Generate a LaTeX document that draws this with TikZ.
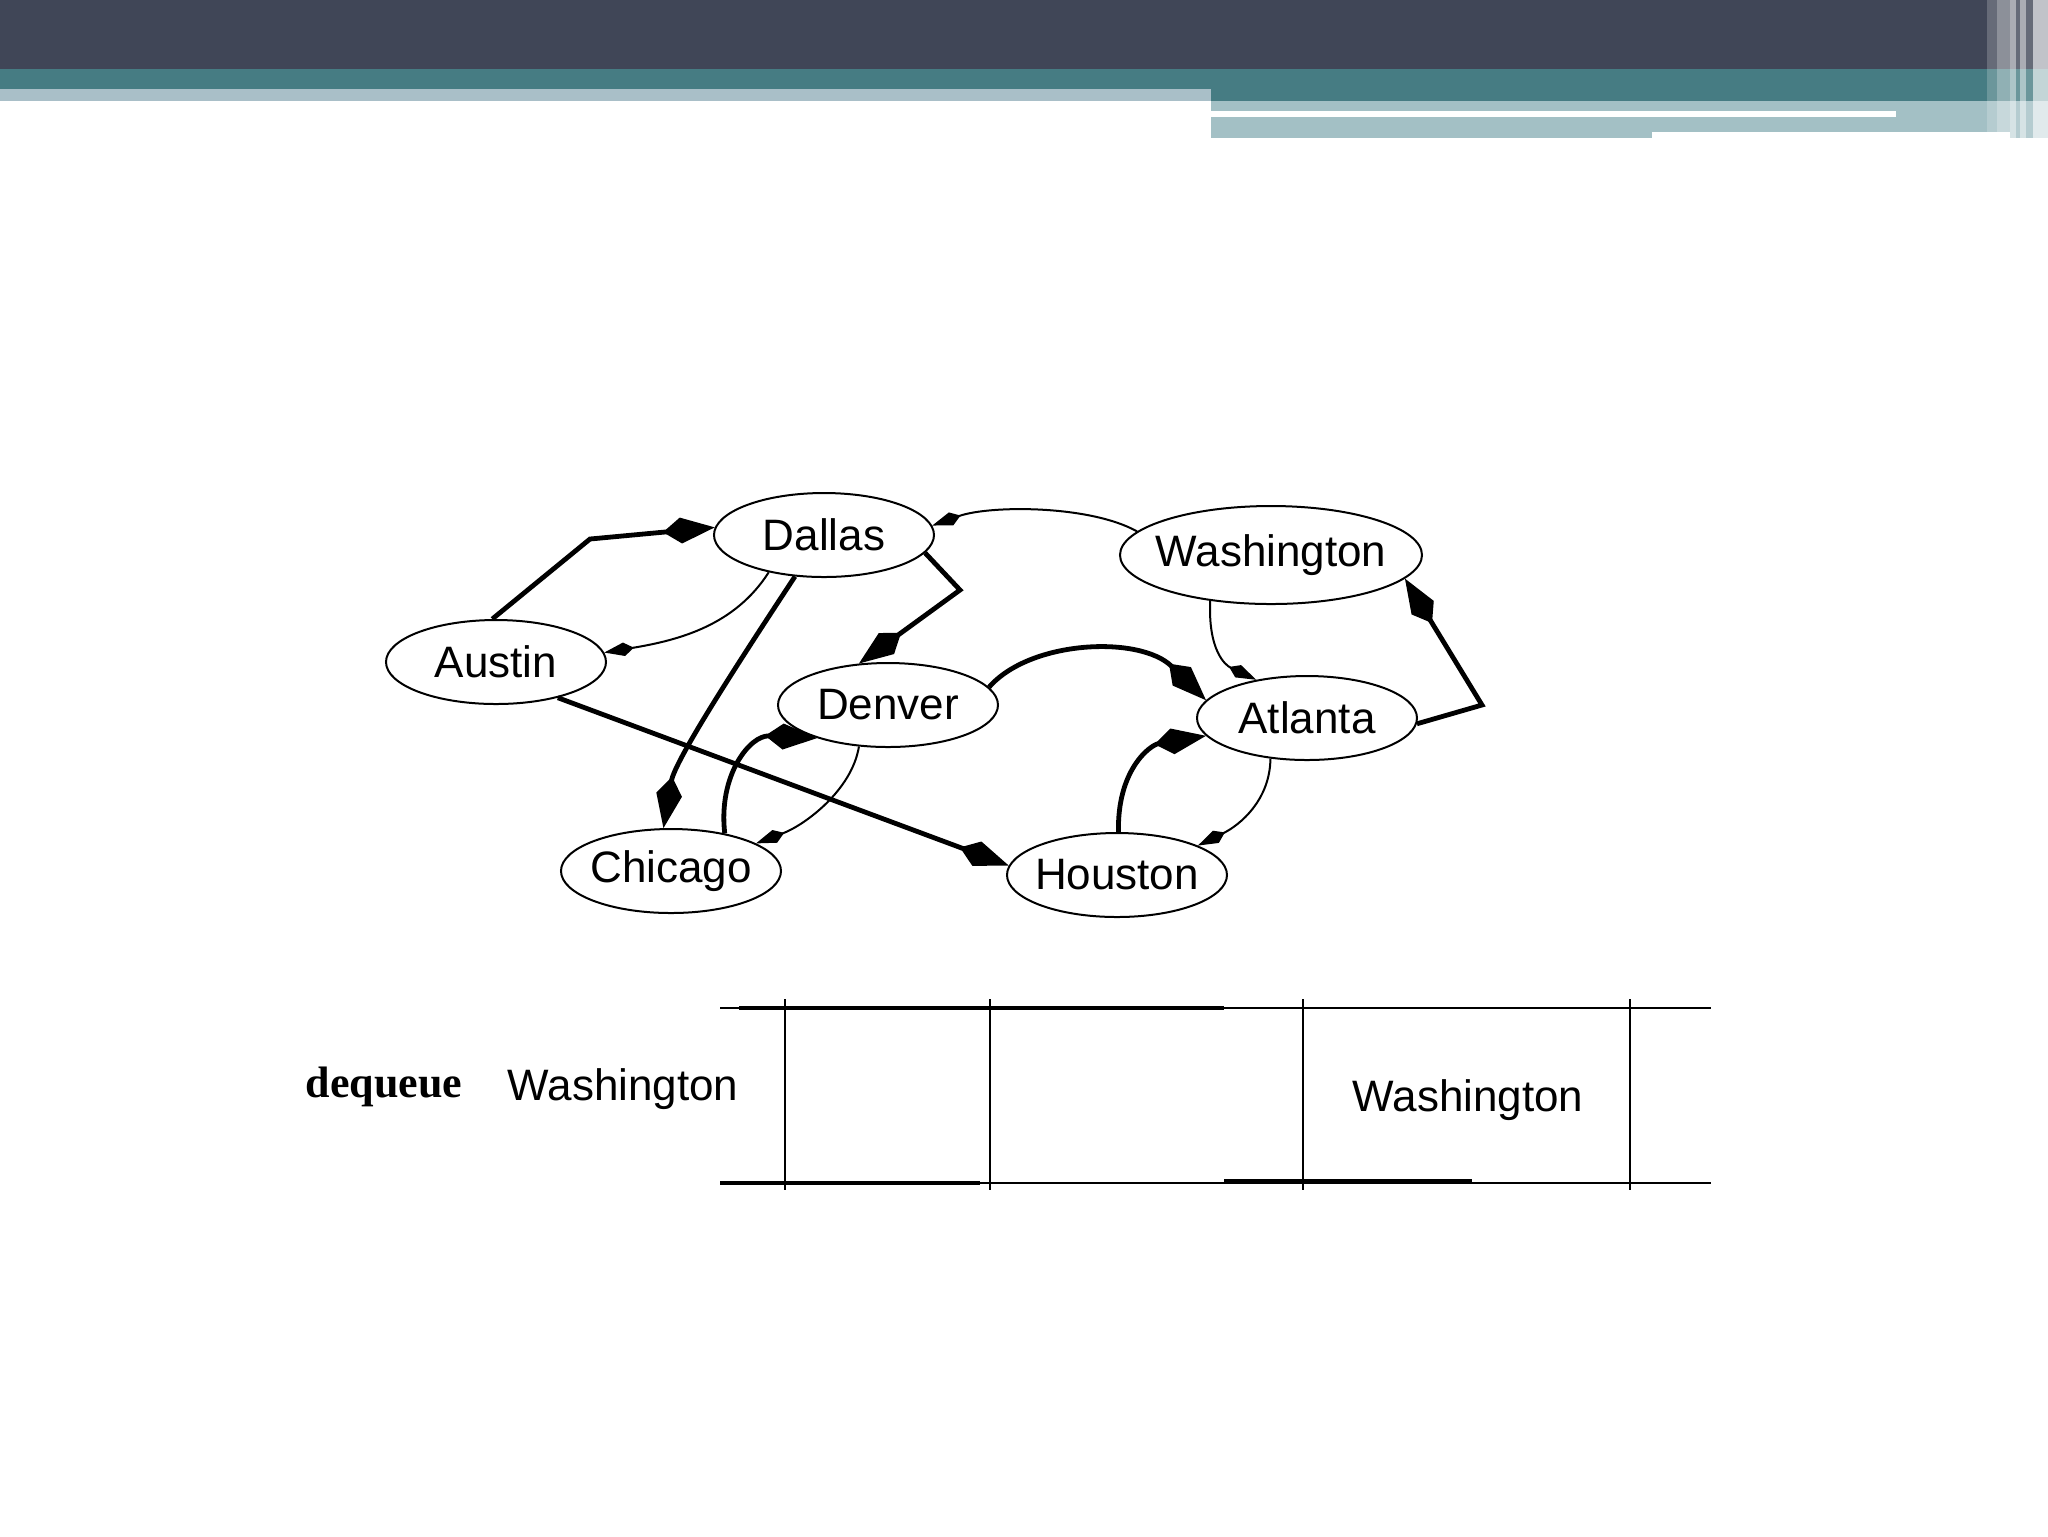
\documentclass[tikz,border=0pt]{standalone}
\usepackage{fontspec}
\setmainfont{Liberation Sans}
\newfontfamily\serifbold{Liberation Serif}
\usetikzlibrary{shapes.geometric,arrows.meta}

\definecolor{slidedark}{RGB}{64,70,87}
\definecolor{slideteal}{RGB}{70,124,131}
\definecolor{slidelight}{RGB}{169,191,200}
\definecolor{slidepale}{RGB}{163,192,197}

\tikzset{
  city/.style={draw, ellipse, line width=0.5pt, inner xsep=-1.5pt, inner ysep=0pt, minimum width=55pt, minimum height=21pt, font=\fontsize{11}{13}\selectfont},
  heavy/.style={line width=1.2pt, -{Kite[length=13pt,width=6.5pt,inset=4.5pt]}},
  light/.style={line width=0.5pt, -{Kite[length=7.5pt,width=3.4pt,inset=2.5pt]}},
  cell/.style={line width=0.5pt},
  slot/.style={line width=1.1pt},
  qtext/.style={inner sep=0pt, font=\fontsize{11}{13}\selectfont},
}

\begin{document}
\begin{tikzpicture}[x=0.25pt,y=0.25pt,yscale=-1,xscale=1]
    \useasboundingbox (0,0) rectangle (2048,1536);
    \fill[white] (0,0) rectangle (2048,1536);

    % slide header
    \fill[slidedark] (0,0) rectangle (2048,69);
    \fill[slideteal] (0,69) rectangle (2048,89);
    \fill[slideteal] (1211,89) rectangle (2048,101);
    \fill[slidelight] (0,89) rectangle (1211,101);
    \fill[slidepale] (1211,101) rectangle (2048,138);
    \fill[white] (1211,111) rectangle (1896,117);
    \fill[white] (1652,132) rectangle (2010,138);
    \fill[white,opacity=0.2] (1987,0) rectangle (2048,138);
    \fill[white,opacity=0.25] (1997,0) rectangle (2010,138);
    \fill[white,opacity=0.45] (2010,0) rectangle (2016,138);
    \fill[white,opacity=0.45] (2020,0) rectangle (2026,138);
    \fill[white,opacity=0.6] (2033,0) rectangle (2048,138);

    % cities
    \node[city] (dallas) at (824,535) {Dallas};
    \node[city, minimum width=75.5pt, minimum height=24.5pt, inner xsep=-2.5pt] (washington) at (1271,555) {Washington};
    \node[city] (austin) at (496,662) {Austin};
    \node[city] (denver) at (888,705) {Denver};
    \node[city] (atlanta) at (1307,718) {Atlanta};
    \node[city] (chicago) at (671,871) {Chicago};
    \node[city] (houston) at (1117,875) {Houston};

    % edges
    \draw[heavy] (austin.95) -- (590,539) -- (dallas.176);
    \draw[heavy] (austin.-30) -- (houston.175);
    \draw[light] (dallas.214) .. controls (735,625) and (680,640) .. (austin.5);
    \draw[heavy] (dallas.235) .. controls (740,660) and (675,760) .. (chicago.100);
    \draw[heavy] (dallas.-10) -- (960,590) -- (denver.125);
    \draw[light] (washington.170) .. controls (1090,505) and (990,505) .. (dallas.5);
    \draw[light] (washington.217) .. controls (1208,650) and (1225,665) .. (atlanta.143);
    \draw[heavy] (denver.10) .. controls (1030,640) and (1140,635) .. (atlanta.170);
    \draw[light] (denver.235) .. controls (852,790) and (805,825) .. (chicago.18);
    \draw[heavy] (chicago.35) .. controls (718,775) and (750,735) .. (denver.205);
    \draw[heavy] (atlanta.-3) -- (1482,705) -- (washington.-10);
    \draw[light] (atlanta.228) .. controls (1270,800) and (1240,825) .. (houston.20);
    \draw[heavy] (houston.88) .. controls (1117,770) and (1150,745) .. (atlanta.190);

    % queue
    \node[qtext, font=\fontsize{11}{13}\serifbold\bfseries] (deqlabel) at (384,1087) {dequeue};
    \node[qtext] (deqitem) at (623,1089) {Washington};
    \node[qtext] (slotitem) at (1468,1100) {Washington};
    \draw[cell] (720,1008) -- (1711,1008);
    \draw[cell] (720,1183) -- (1711,1183);
    \draw[slot] (739,1008) -- (1224,1008);
    \draw[slot] (720,1183) -- (980,1183);
    \draw[slot] (1224,1181) -- (1472,1181);
    \foreach \x in {785,990,1303,1630}
        \draw[cell] (\x,999) -- (\x,1190);

\end{tikzpicture}
\end{document}
